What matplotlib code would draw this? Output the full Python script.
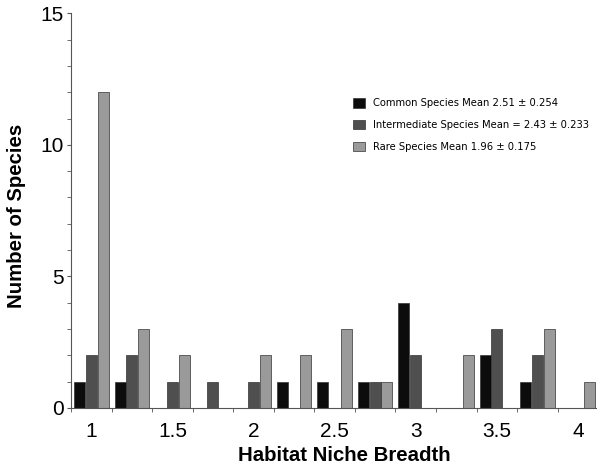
import numpy as np
import matplotlib
matplotlib.use("Agg")
import matplotlib.pyplot as plt

# niche breadth classes and species counts per abundance group
breadth = [1.0, 1.25, 1.5, 1.75, 2.0, 2.25, 2.5, 2.75, 3.0, 3.25, 3.5, 3.75, 4.0]
common = [1, 1, 0, 0, 0, 1, 1, 1, 4, 0, 2, 1, 0]
intermediate = [2, 2, 1, 1, 1, 0, 0, 1, 2, 0, 3, 2, 0]
rare = [12, 3, 2, 0, 2, 2, 3, 1, 0, 2, 0, 3, 1]

labels = ['Common Species Mean 2.51 \u00b1 0.254',
          'Intermediate Species Mean = 2.43 \u00b1 0.233',
          'Rare Species Mean 1.96 \u00b1 0.175']
colors = ['#0c0c0c', '#4f4f4f', '#9a9a9a']
xtick_labels = ['1', '1.5', '2', '2.5', '3', '3.5', '4']

plt.rcParams['font.family'] = ['Liberation Sans', 'DejaVu Sans']

fig = plt.figure(figsize=(5.97, 4.66), dpi=100)
ax = fig.add_axes([0.119, 0.1245, 0.883, 0.847])

x = np.array(breadth)
w = 0.068
step = 0.0725
for i, (vals, c, lab) in enumerate(zip([common, intermediate, rare], colors, labels)):
   xs = x + (i - 1) * step
   keep = np.array(vals) > 0
   ax.bar(xs[keep], np.array(vals)[keep], width=w, color=c, edgecolor='#333333',
          linewidth=0.5, label=lab)

ax.set_xlim(0.875, 4.125)
ax.set_ylim(0, 15)

ax.spines['top'].set_visible(False)
ax.spines['right'].set_visible(False)
ax.spines['left'].set_color('#555555')
ax.spines['bottom'].set_color('#555555')
ax.spines['left'].set_linewidth(0.8)
ax.spines['bottom'].set_linewidth(0.8)

ax.set_xticks([float(t) for t in xtick_labels])
ax.set_xticklabels(xtick_labels)
ax.set_xticks(np.arange(0.875, 4.13, 0.25), minor=True)
ax.tick_params(axis='x', which='major', length=0, pad=10, labelsize=15)
ax.tick_params(axis='x', which='minor', length=3, direction='out', color='#555555')

ax.set_yticks([0, 5, 10, 15])
ax.set_yticks(np.arange(0, 16, 1), minor=True)
ax.tick_params(axis='y', which='major', length=3, direction='out', pad=2,
               labelsize=15, color='#555555')
ax.tick_params(axis='y', which='minor', length=3, direction='out', color='#555555')

ax.set_xlabel('Habitat Niche Breadth', fontsize=14.7, fontweight='bold')
ax.xaxis.set_label_coords(0.518, -0.097)
ax.set_ylabel('Number of Species', fontsize=14.7, fontweight='bold')
ax.yaxis.set_label_coords(-0.085, 0.487)

leg = ax.legend(loc='upper left', bbox_to_anchor=(0.535, 0.785), frameon=False,
                prop={'family': 'DejaVu Sans', 'size': 7.2},
                handlelength=1.2, handleheight=1.1, handletextpad=0.8,
                labelspacing=1.15, borderaxespad=0, borderpad=0)

fig.savefig('out.png', dpi=100)
